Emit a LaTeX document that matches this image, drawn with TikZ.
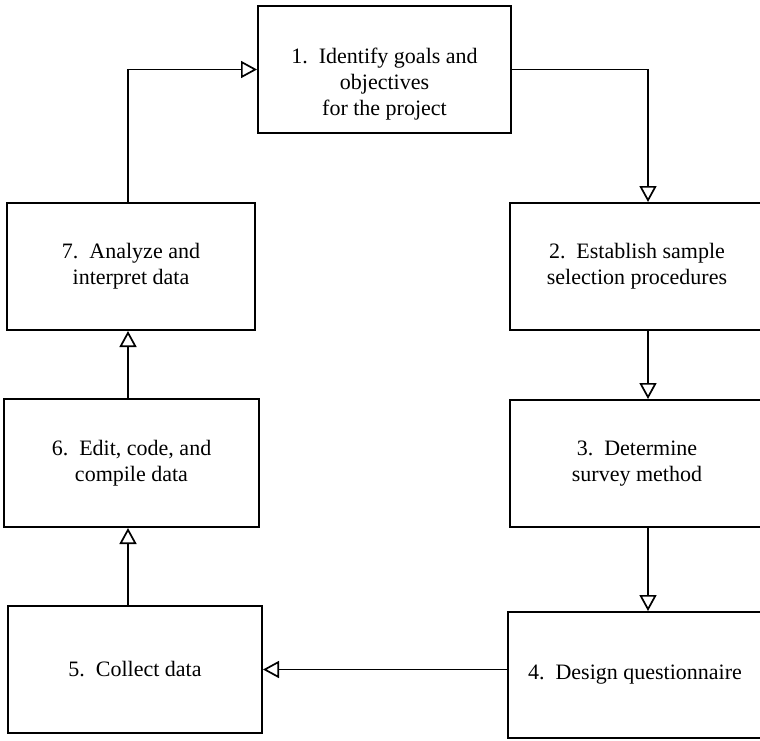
\documentclass[tikz,border=0pt]{standalone}
\usepackage{fontspec}
\setmainfont{Liberation Serif}
\usetikzlibrary{arrows.meta}
\tikzset{x=1pt, y=-1pt,
stagetext/.style={ % Sets the text inside each box
align=center,
font=\fontsize{22}{26}\selectfont},
stage/.style={ % Sets the properties for each box
draw,
line width=2pt,
minimum width=254pt,
minimum height=127pt,
stagetext},
flow/.style={ % Open triangle heads on every connector
-{Triangle[open,length=16pt,width=17pt]},
line width=1.7pt},
every edge/.style={ % Sets the properties for each straight arrow
draw,
flow}}

\begin{document}
\begin{tikzpicture}
\useasboundingbox (0,0) rectangle (760,740);
\clip (0,0) rectangle (760,740);
\coordinate (ltrack) at (128,0);
\coordinate (rtrack) at (648,0);
\node[stage, minimum width=253pt] (goals) at (384.5,69.5) {};
\node[stagetext] (goalstext) at (384.5,84) {1.\ \ Identify goals and\\objectives\\for the project};
\node[stage] (sample) at (637,266.5) {2.\ \ Establish sample\\selection procedures};
\node[stage] (method) at (637,463.5) {3.\ \ Determine\\survey method};
\node[stage, minimum height=126pt] (quest) at (635,675) {4.\ \ Design questionnaire};
\node[stage] (collect) at (135,669.5) {5.\ \ Collect data};
\node[stage, minimum width=255pt, minimum height=128pt] (compile) at (131.5,463) {6.\ \ Edit, code, and\\compile data};
\node[stage, minimum width=248pt] (analyze) at (131,266.5) {7.\ \ Analyze and\\interpret data};
\draw[flow] (goals.east) -| (sample.north -| rtrack);
\draw (sample.south -| rtrack) edge (method.north -| rtrack);
\draw (method.south -| rtrack) edge (quest.north -| rtrack);
\draw (quest.west |- collect.east) edge (collect.east);
\draw (collect.north -| ltrack) edge (compile.south -| ltrack);
\draw (compile.north -| ltrack) edge (analyze.south -| ltrack);
\draw[flow] (analyze.north -| ltrack) |- (goals.west);
\end{tikzpicture}
\end{document}
